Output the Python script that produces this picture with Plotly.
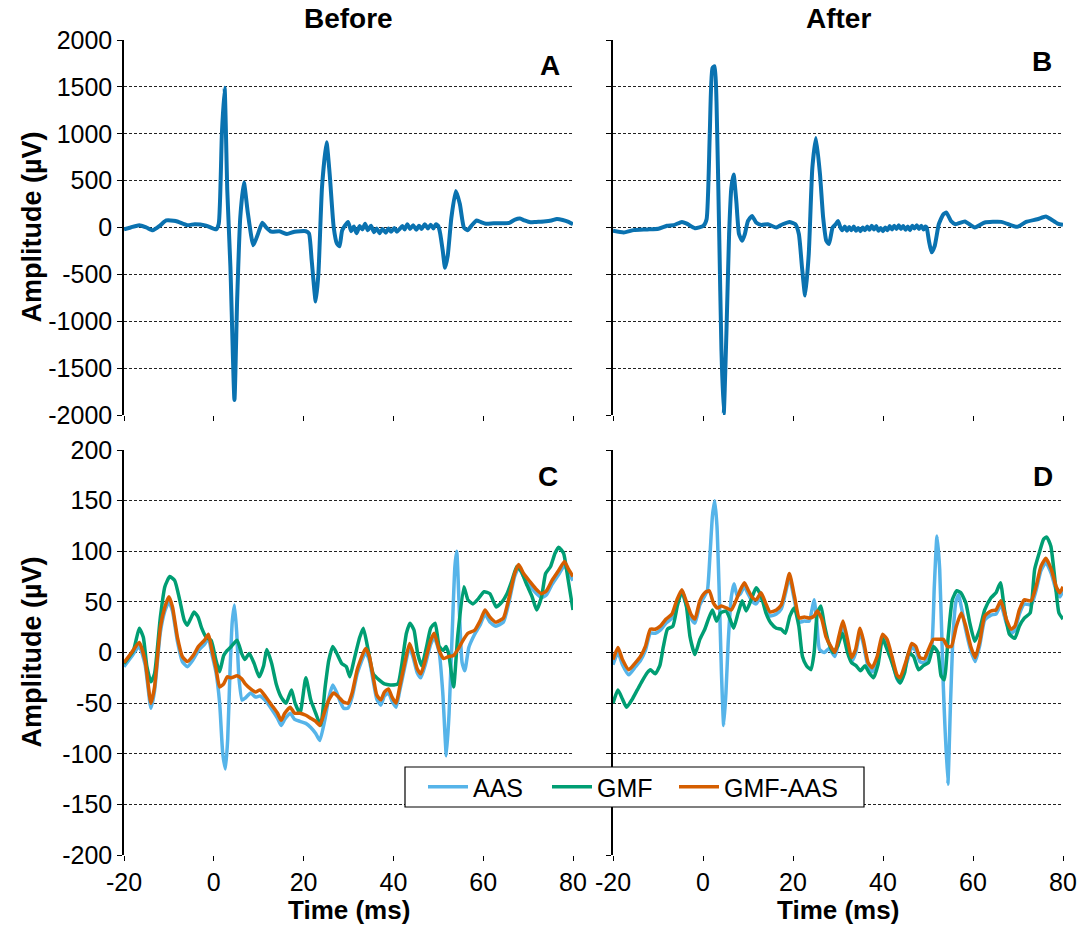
import plotly.graph_objects as go

# ---------------- Data ----------------
# Panel A (Before, raw signal)
before_t = [-20, -18.5, -16.6, -15, -13.6, -12, -10.6, -8.5, -5.9, -4.2, -1.7, 0.5, 1.1, 1.8, 2.4, 3.0, 3.7, 4.6, 5.2, 5.9,
            6.7, 7.6, 8.8, 9.9, 10.8, 11.6, 12.8, 14.6, 16.3, 18.0, 20.5, 21.2, 21.8, 22.7, 23.3, 24.1, 25.1, 25.8, 26.7, 27.4,
            28.0, 28.6, 29.9, 30.6, 31.2, 31.8, 32.5, 33.1, 33.7, 34.3, 35.0, 35.7, 36.3, 36.9, 37.6, 38.3, 38.9, 39.5, 40.2,
            40.8, 41.4, 42.0, 42.5, 43.1, 43.7, 44.4, 45.1, 45.7, 46.3, 47.0, 47.7, 48.3, 48.9, 49.5, 50.0, 50.4, 51.0, 51.5,
            52.1, 52.9, 53.9, 54.8, 55.7, 56.5, 57.4, 58.5, 59.4, 60.6, 62.3, 64.0, 65.8, 67.1, 68.2, 69.2, 70.5, 71.8, 73.5,
            75.2, 76.4, 77.7, 79.0, 80]
before_v = [-20, 0, 25, 0, -30, 20, 75, 70, 25, 35, 20, -20, 40, 1000, 1490, 400, -420, -1840, -770, 110,
            480, 150, -190, -60, 50, 5, -45, -40, -70, -45, -40, -65, -350, -790, -490, 430, 910, 575, 5, -170,
            -200, -30, 60, -40, 10, -60, 15, -20, 40, -30, 20, -50, -10, -60, -15, -55, -10, -45, -5,
            -45, -15, 15, -20, 35, -15, 25, -25, 20, -15, 35, -10, 30, -10, 35, 15, -60, -250, -430,
            -300, 100, 390, 250, 0, -30, 20, 75, 60, 40, 45, 45, 50, 85, 95, 75, 55, 60, 65,
            75, 90, 80, 60, 35]

# Panel B (After, raw signal)
after_t = [-20, -17.6, -15.4, -12.4, -9.9, -8.0, -6.5, -4.7, -3.6, -1.8, 0.1, 0.8, 1.5, 2.1, 2.6, 3.0, 3.6, 4.1, 4.6, 5.2,
           5.8, 6.3, 6.8, 7.4, 8.0, 8.7, 9.3, 10.0, 10.9, 11.8, 12.9, 14.4, 16.3, 17.7, 19.2, 20.5, 21.3, 22.0, 22.7, 23.5,
           24.3, 25.1, 26.0, 26.7, 27.4, 28.0, 28.8, 29.5, 30.0, 30.6, 31.0, 31.5, 32.0, 32.5, 33.0, 33.5, 34.0, 34.5, 35.0,
           35.5, 36.0, 36.5, 37.0, 37.5, 38.0, 38.5, 39.0, 39.5, 40.0, 40.5, 41.0, 41.5, 42.0, 42.5, 43.0, 43.5, 44.0, 44.5,
           45.0, 45.5, 46.0, 46.5, 47.0, 47.5, 48.0, 48.5, 49.0, 49.4, 49.7, 50.2, 50.8, 51.5, 52.4, 53.4, 54.1, 55.1, 56.1,
           58.2, 60.4, 62.6, 66.3, 69.8, 71.8, 74.3, 76.2, 77.3, 78.8, 80]
after_v = [-35, -53, -28, -21, -14, 18, 25, 60, 42, -7, 18, 88, 990, 1700, 1720, 1345, -70, -1310, -1990, -1130,
           -70, 425, 566, 283, -70, -142, -70, 70, 124, 53, 28, 35, 0, 35, 60, 35, -70, -425, -725, -283,
           637, 956, 566, 106, -142, -177, 0, 35, 70, -7, -30, 10, -35, 5, -30, 10, -35, -5, -40,
           0, -30, 10, -25, 20, -20, 15, -35, -5, -40, 0, -30, 15, -20, 20, -15, 25, -15, 15,
           -25, 10, -30, 20, -10, 25, -15, 20, -20, 10, 0, -140, -265, -195, 35, 141, 159, 70, 35,
           64, 0, 53, 60, 7, 60, 88, 117, 88, 42, 28]

# Panel C (Before, corrected)
c_aas_t = [-20, -18.3, -16.6, -15.3, -14.0, -13.2, -11.9, -10.9, -10.0, -9.2, -8.1, -7.0, -5.9, -4.6, -3.4, -2.1, -1.2,
           -0.4, 0.5, 1.3, 2.0, 2.6, 3.1, 3.6, 4.1, 4.6, 5.1, 5.6, 6.3, 7.0, 8.2, 9.3, 10.3, 11.6, 12.9, 14.2, 15.0, 15.8,
           17.0, 18.0, 19.2, 20.5, 21.6, 22.7, 23.6, 24.8, 25.6, 26.5, 27.4, 28.3, 28.9, 29.9, 30.8, 32.0, 33.8, 34.6,
           35.5, 36.3, 37.2, 38.0, 38.9, 39.7, 40.6, 41.4, 42.5, 43.6, 44.4, 45.3, 46.1, 47.1, 48.3, 49.1, 50.2, 51.0,
           51.8, 52.4, 53.1, 53.7, 54.1, 54.7, 55.3, 55.9, 56.8, 58.1, 59.4, 60.4, 61.5, 62.8, 64.5, 65.8, 67.0, 67.9,
           69.0, 70.4, 71.7, 73.0, 74.1, 75.3, 76.8, 78.1, 78.9, 80]
c_aas_v = [-14, -4, 6, -12, -55, -38, 20, 41, 50, 41, 11, -9, -14, -7, 2, 8, 14,
           -2, -20, -50, -100, -115, -85, -20, 30, 47, 20, -25, -47, -45, -40, -44, -43, -48, -56, -65, -72, -66,
           -60, -66, -68, -70, -74, -80, -87, -65, -45, -32, -40, -50, -55, -55, -44, -20, 0, -7,
           -28, -46, -52, -43, -40, -48, -54, -38, -15, 5, -5, -20, -25, -12, 8, 15, 0, -40,
           -102, -60, 20, 85, 100, 40, -10, -18, 5, 18, 28, 38, 30, 26, 30, 51, 75, 84,
           75, 66, 59, 54, 57, 67, 77, 86, 79, 71]

c_gmf_t = [-20, -17.9, -16.6, -15.7, -14.9, -14.0, -13.2, -11.9, -10.9, -9.8, -8.7, -7.6, -6.6, -5.9, -5.1, -4.4, -3.5,
           -2.7, -1.7, -0.6, 0.5, 1.3, 2.2, 3.0, 3.9, 5.2, 6.2, 6.9, 7.9, 9.0, 10.1, 11.1, 11.8, 12.9, 13.9, 15.0, 16.1,
           17.3, 18.1, 19.2, 20.5, 21.6, 22.7, 23.8, 24.8, 25.6, 26.5, 27.4, 28.5, 29.5, 30.3, 31.2, 32.5, 33.3, 34.4,
           35.5, 36.8, 38.0, 39.3, 41.0, 41.8, 42.9, 43.7, 44.6, 45.4, 46.3, 47.4, 48.3, 49.3, 50.2, 51.1, 51.7, 52.3,
           53.4, 54.3, 55.7, 56.6, 57.7, 58.9, 60.2, 61.5, 62.9, 64.2, 65.3, 66.4, 67.5, 68.5, 69.6, 70.9, 71.9, 73.0,
           73.9, 75.0, 76.0, 76.8, 77.9, 78.7, 80]
c_gmf_v = [-11, 2, 24, 15, -14, -29, -21, 35, 65, 75, 71, 52, 32, 27, 34, 40, 35,
           24, 15, 12, -8, -19, -3, 2, 6, 12, -1, -7, -1, -11, -24, -13, 3, -11, -31, -44, -50,
           -37, -50, -60, -25, -47, -60, -72, -34, -8, 6, -1, -11, -14, -24, -8, 15, 24, 2,
           -21, -27, -31, -32, -31, -14, 19, 29, 22, -1, -13, 6, 24, 29, 6, 2, 6, -1,
           -34, 15, 65, 52, 48, 53, 60, 58, 45, 50, 58, 71, 85, 80, 68, 55, 42, 55,
           78, 85, 98, 104, 98, 78, 42]

c_mix_t = [-20, -18.3, -16.6, -15.3, -14.0, -13.2, -11.9, -10.9, -10.0, -9.2, -8.1, -7.0, -5.9, -4.6, -3.4, -2.1, -1.2,
           -0.4, 0.5, 1.3, 2.2, 3.0, 3.9, 5.2, 6.2, 7.0, 8.2, 9.3, 10.3, 11.6, 12.9, 14.2, 15.0, 15.8, 17.0, 18.0, 19.2,
           20.5, 21.6, 22.7, 23.6, 24.8, 25.6, 26.7, 27.8, 28.9, 29.9, 30.8, 32.0, 33.8, 34.6, 35.5, 36.3, 37.2, 38.0,
           38.9, 39.7, 40.6, 41.4, 42.5, 43.6, 44.4, 45.3, 46.1, 47.1, 48.3, 49.1, 50.2, 51.2, 52.3, 53.4, 54.5, 55.5,
           56.6, 58.1, 59.4, 60.4, 61.5, 62.8, 64.5, 65.8, 67.0, 67.9, 69.0, 70.4, 71.7, 73.0, 74.1, 75.3, 76.8, 78.1,
           78.9, 80]
c_mix_v = [-10, 0, 10, -8, -50, -34, 25, 45, 55, 45, 15, -4, -9, -3, 6, 12, 18,
           2, -16, -34, -31, -24, -25, -23, -26, -31, -36, -39, -37, -44, -52, -60, -67, -60, -54, -60, -60,
           -62, -65, -68, -72, -57, -47, -40, -44, -49, -50, -40, -16, 4, -3, -24, -42, -47, -39,
           -36, -44, -50, -34, -11, 9, -1, -16, -21, -8, 12, 19, 2, -6, -4, -3, 4, 12,
           19, 22, 32, 42, 35, 30, 34, 55, 78, 87, 78, 70, 63, 58, 61, 71, 81, 90,
           83, 75]

# Panel D (After, corrected)
d_aas_t = [-20, -18.9, -17.9, -16.5, -15.0, -13.9, -12.8, -11.7, -10.6, -9.5, -8.2, -6.9, -5.8, -4.7, -3.6, -2.7, -1.8,
           -0.7, 0.4, 1.0, 1.6, 2.1, 2.6, 3.1, 3.6, 4.1, 4.6, 5.1, 5.6, 6.3, 6.9, 7.6, 8.3, 9.2, 10.0, 11.0, 11.8, 12.9,
           13.9, 14.9, 16.3, 17.4, 18.3, 19.2, 20.3, 21.4, 22.5, 23.6, 24.2, 24.7, 25.3, 25.9, 27.0, 28.0, 29.3, 30.2,
           31.1, 32.1, 33.0, 33.9, 34.9, 35.7, 36.7, 37.6, 38.7, 39.9, 40.9, 42.0, 43.1, 43.8, 44.8, 45.7, 46.4, 47.3,
           48.2, 49.2, 50.1, 50.8, 51.4, 52.0, 52.6, 53.4, 54.4, 55.0, 55.6, 56.2, 56.8, 57.4, 58.4, 59.5, 60.5, 61.5,
           62.6, 64.0, 65.1, 66.2, 67.4, 68.5, 69.3, 70.3, 71.4, 72.9, 74.0, 75.1, 76.2, 77.4, 78.5, 79.3, 80]
d_aas_v = [-12, 0, -12, -22, -14, -8, 2, 19, 19, 22, 29, 34, 48, 59, 45, 34, 29,
           47, 56, 62, 100, 135, 150, 125, 60, -20, -72, -40, 10, 55, 68, 56, 58, 65, 58, 50, 48, 55,
           45, 36, 38, 43, 58, 74, 52, 30, 31, 31, 42, 52, 30, 3, 0, 4, -4, 12,
           27, 9, -9, -1, 20, 7, -14, -19, -8, 14, 9, -8, -26, -30, -17, -4, 5, 2,
           -9, -10, -1, 5, 65, 115, 82, -33, -130, -50, 20, 50, 57, 45, 22, 2, -9, 7,
           32, 37, 38, 47, 29, 19, 22, 38, 48, 47, 61, 81, 89, 78, 61, 55, 61]

d_gmf_t = [-20, -18.9, -17.9, -17.0, -15.7, -14.6, -13.5, -12.4, -11.7, -10.6, -9.6, -8.8, -7.9, -6.7, -5.7, -4.7, -3.7,
           -2.9, -1.8, -0.7, 0.4, 1.2, 2.1, 3.0, 3.9, 5.1, 6.0, 6.8, 7.8, 8.7, 9.6, 10.7, 11.8, 12.9, 14.0, 15.1, 16.3,
           17.4, 18.3, 19.3, 20.3, 21.3, 22.1, 23.0, 24.0, 24.7, 25.4, 26.2, 26.9, 27.9, 28.9, 29.9, 31.0, 32.1, 33.0,
           34.0, 35.0, 36.0, 36.9, 37.9, 38.9, 39.9, 40.9, 42.0, 43.1, 43.8, 44.8, 45.7, 46.8, 47.9, 49.0, 50.1, 51.2,
           52.2, 52.9, 53.6, 54.5, 55.4, 56.4, 57.3, 58.4, 59.3, 60.4, 61.5, 62.6, 64.0, 65.1, 66.1, 67.0, 68.1, 69.3,
           70.3, 71.4, 72.7, 73.7, 74.7, 75.7, 76.4, 77.3, 78.2, 79.1, 80]
d_gmf_v = [-50, -37, -46, -54, -46, -37, -28, -20, -17, -21, -13, 6, 23, 26, 46, 61, 46,
           16, -2, 13, 23, 33, 42, 31, 39, 41, 33, 24, 39, 51, 41, 52, 64, 56, 39, 29, 24,
           23, 19, 36, 44, 26, -4, -13, -17, 0, 39, 46, 29, 10, 0, 6, 19, 0, -10,
           -13, -18, -13, -20, -25, -12, 14, 3, -10, -25, -30, -20, 0, -4, -17, -13, -10, 6,
           0, -23, -27, 16, 52, 61, 59, 49, 29, 11, 23, 42, 54, 59, 69, 42, 18, 14,
           26, 34, 39, 82, 98, 112, 114, 105, 72, 39, 33]

d_mix_t = [-20, -18.9, -17.9, -16.5, -15.0, -13.9, -12.8, -11.7, -10.6, -9.5, -8.2, -6.9, -5.8, -4.7, -3.6, -2.7, -1.8,
           -0.7, 0.4, 1.4, 2.3, 3.2, 4.1, 5.2, 6.3, 7.4, 8.3, 9.2, 10.0, 11.0, 11.8, 12.9, 13.9, 14.9, 16.3, 17.4, 18.3,
           19.2, 20.3, 21.4, 22.5, 23.6, 24.7, 25.4, 26.4, 27.3, 28.4, 29.3, 30.2, 31.1, 32.1, 33.0, 33.9, 34.9, 35.7,
           36.7, 37.6, 38.7, 39.9, 40.9, 42.0, 43.1, 43.8, 44.8, 45.7, 46.4, 47.3, 48.2, 49.2, 50.1, 51.2, 52.3, 53.4,
           54.3, 55.2, 56.3, 57.4, 58.4, 59.5, 60.5, 61.5, 62.6, 64.0, 65.1, 66.2, 67.4, 68.5, 69.3, 70.3, 71.4, 72.9,
           74.0, 75.1, 76.2, 77.4, 78.5, 79.3, 80]
d_mix_v = [-7, 5, -7, -17, -10, -4, 6, 23, 23, 26, 33, 38, 52, 62, 49, 38, 33,
           51, 59, 61, 49, 44, 46, 44, 42, 52, 62, 69, 62, 54, 52, 59, 49, 40, 42, 47, 62,
           78, 56, 34, 35, 34, 36, 41, 33, 16, 6, 0, 16, 31, 13, -5, 3, 24, 11,
           -10, -15, -4, 18, 13, -4, -22, -25, -13, 0, 9, 6, -5, -6, 3, 13, 13, 13,
           6, 6, 26, 39, 26, 6, -5, 11, 36, 41, 42, 51, 33, 23, 26, 42, 52, 51,
           65, 85, 93, 82, 65, 59, 65]

x_ticks = [-20, 0, 20, 40, 60, 80]
x_tick_text = ["-20", "0", "20", "40", "60", "80"]
top_ticks = [-2000, -1500, -1000, -500, 0, 500, 1000, 1500, 2000]
top_tick_text = ["-2000", "-1500", "-1000", "-500", "0", "500", "1000", "1500", "2000"]
bottom_ticks = [-200, -150, -100, -50, 0, 50, 100, 150, 200]
bottom_tick_text = ["-200", "-150", "-100", "-50", "0", "50", "100", "150", "200"]
series_names = ["AAS", "GMF", "GMF-AAS"]
column_titles = ["Before", "After"]
panel_letters = ["A", "B", "C", "D"]

# ---------------- Styling ----------------
FONT = "Liberation Sans, Arial, sans-serif"
RAW_COLOR = "#0a72b0"
COLORS = {"AAS": "#56B4E9", "GMF": "#009E73", "GMF-AAS": "#D55E00"}
W, H = 1091, 930

def px_x(p):
    return p / W

def px_y(p):
    return 1 - p / H

xdom_left = [px_x(124), px_x(573)]
xdom_right = [px_x(613), px_x(1063)]
ydom_top = [px_y(415), px_y(40)]
ydom_bot = [px_y(855), px_y(450)]

fig = go.Figure()

line_shape = dict(shape="spline", smoothing=0.5)

fig.add_trace(go.Scatter(x=before_t, y=before_v, mode="lines", xaxis="x", yaxis="y",
                         line=dict(color=RAW_COLOR, width=4, **line_shape), showlegend=False))
fig.add_trace(go.Scatter(x=after_t, y=after_v, mode="lines", xaxis="x2", yaxis="y2",
                         line=dict(color=RAW_COLOR, width=4, **line_shape), showlegend=False))

legend_ids = {"AAS": "legend", "GMF": "legend2", "GMF-AAS": "legend3"}
for (t, v, name) in [(c_aas_t, c_aas_v, "AAS"), (c_gmf_t, c_gmf_v, "GMF"), (c_mix_t, c_mix_v, "GMF-AAS")]:
    fig.add_trace(go.Scatter(x=t, y=v, mode="lines", xaxis="x3", yaxis="y3", name=name,
                             legend=legend_ids[name],
                             line=dict(color=COLORS[name], width=3.5, **line_shape), showlegend=True))
for (t, v, name) in [(d_aas_t, d_aas_v, "AAS"), (d_gmf_t, d_gmf_v, "GMF"), (d_mix_t, d_mix_v, "GMF-AAS")]:
    fig.add_trace(go.Scatter(x=t, y=v, mode="lines", xaxis="x4", yaxis="y4", name=name,
                             line=dict(color=COLORS[name], width=3.5, **line_shape), showlegend=False))

def xaxis(domain, anchor, labels):
    return dict(domain=domain, anchor=anchor, range=[-20, 80], tickvals=x_ticks, ticktext=x_tick_text,
                showticklabels=labels, ticks="outside", ticklen=5, tickwidth=1, tickcolor="black",
                showgrid=False, zeroline=False, showline=False, automargin=False,
                tickfont=dict(family=FONT, size=25, color="black"))

def yaxis(domain, anchor, rng, ticks, ticktext, labels):
    return dict(domain=domain, anchor=anchor, range=rng, tickvals=ticks, ticktext=ticktext,
                showticklabels=labels, ticks="outside", ticklen=5, tickwidth=1, tickcolor="black",
                showgrid=True, gridcolor="#222222", gridwidth=1, griddash="3px,2px",
                zeroline=False, showline=True, linecolor="black", linewidth=1.5, automargin=False,
                tickfont=dict(family=FONT, size=25, color="black"))

annotations = []
for txt, cx in zip(column_titles, [(124 + 573) / 2, (613 + 1063) / 2]):
    annotations.append(dict(text="<b>%s</b>" % txt, x=px_x(cx), y=px_y(18), xref="paper", yref="paper",
                            showarrow=False, xanchor="center", yanchor="middle",
                            font=dict(family=FONT, size=28, color="black")))
for letter, (lx, ly) in zip(panel_letters, [(550, 66), (1042, 62), (548, 476), (1043, 476)]):
    annotations.append(dict(text="<b>%s</b>" % letter, x=px_x(lx), y=px_y(ly), xref="paper", yref="paper",
                            showarrow=False, xanchor="center", yanchor="middle",
                            font=dict(family=FONT, size=28, color="black")))
for cy in [(40 + 415) / 2, (450 + 855) / 2]:
    annotations.append(dict(text="<b>Amplitude (µV)</b>", x=px_x(31), y=px_y(cy), xref="paper", yref="paper",
                            showarrow=False, xanchor="center", yanchor="middle", textangle=-90,
                            font=dict(family=FONT, size=27, color="black")))
for cx in [349, 838]:
    annotations.append(dict(text="<b>Time (ms)</b>", x=px_x(cx), y=px_y(910), xref="paper", yref="paper",
                            showarrow=False, xanchor="center", yanchor="middle",
                            font=dict(family=FONT, size=26, color="black")))

# legend frame (white box with black border)
shapes = [dict(type="rect", xref="paper", yref="paper", x0=px_x(405), x1=px_x(864), y0=px_y(807), y1=px_y(767),
               fillcolor="white", line=dict(color="black", width=1.2), layer="above")]

def legend_at(xpix):
    return dict(orientation="h", x=px_x(xpix), y=px_y(787), xanchor="left", yanchor="middle",
                bgcolor="rgba(0,0,0,0)", borderwidth=0,
                font=dict(family=FONT, size=25, color="black"), itemwidth=40)

fig.update_layout(
    width=W, height=H,
    margin=dict(l=0, r=0, t=0, b=0),
    paper_bgcolor="white", plot_bgcolor="white",
    font=dict(family=FONT, color="black"),
    xaxis=xaxis(xdom_left, "y", False),
    yaxis=yaxis(ydom_top, "x", [-2000, 2000], top_ticks, top_tick_text, True),
    xaxis2=xaxis(xdom_right, "y2", False),
    yaxis2=yaxis(ydom_top, "x2", [-2000, 2000], top_ticks, top_tick_text, False),
    xaxis3=xaxis(xdom_left, "y3", True),
    yaxis3=yaxis(ydom_bot, "x3", [-200, 200], bottom_ticks, bottom_tick_text, True),
    xaxis4=xaxis(xdom_right, "y4", True),
    yaxis4=yaxis(ydom_bot, "x4", [-200, 200], bottom_ticks, bottom_tick_text, False),
    legend=legend_at(423),
    legend2=legend_at(547),
    legend3=legend_at(674),
    shapes=shapes,
    annotations=annotations,
    showlegend=True,
)

fig.write_html("out.html")
